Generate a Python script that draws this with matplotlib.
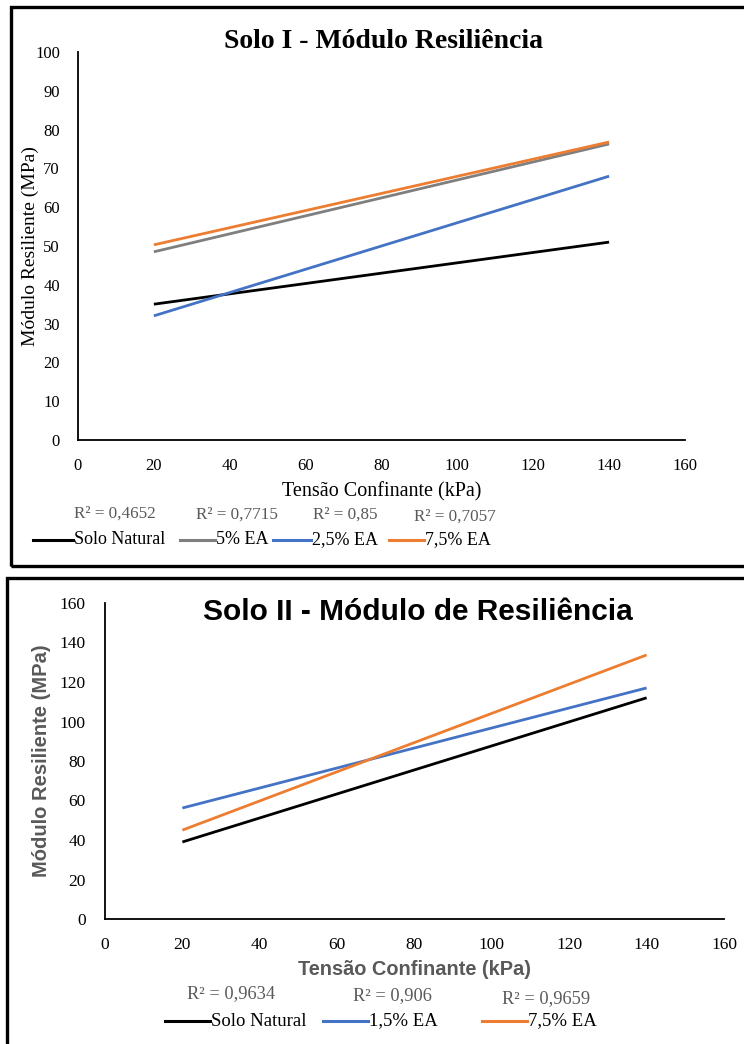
import matplotlib
matplotlib.use("Agg")
import matplotlib.pyplot as plt
from matplotlib.patches import Rectangle
from matplotlib.lines import Line2D

# Solo I: linear trend lines between confining stress 20 and 140 kPa
x_ends = [20, 140]
solo1_labels = ["Solo Natural", "5% EA", "2,5% EA", "7,5% EA"]
solo1_natural = [35.0, 51.0]
solo1_5ea = [48.5, 76.3]
solo1_25ea = [32.0, 68.0]
solo1_75ea = [50.3, 76.8]
solo1_r2 = ["R² = 0,4652", "R² = 0,7715", "R² = 0,85", "R² = 0,7057"]

# Solo II
solo2_labels = ["Solo Natural", "1,5% EA", "7,5% EA"]
solo2_natural = [39.0, 112.0]
solo2_15ea = [56.2, 117.0]
solo2_75ea = [45.0, 133.7]
solo2_r2 = ["R² = 0,9634", "R² = 0,906", "R² = 0,9659"]

x_ticks = list(range(0, 161, 20))
y1_ticks = list(range(0, 101, 10))
y2_ticks = list(range(0, 161, 20))

BLACK = "#000000"
GRAY = "#7F7F7F"
BLUE = "#4472C4"
ORANGE = "#ED7D31"
TEXT_GRAY = "#595959"

SERIF = "Liberation Serif"
SANS = "Liberation Sans"

W, H = 744, 1044
fig = plt.figure(figsize=(W / 100, H / 100), dpi=100)


def fx(px):
    return px / W


def fy(py):
    return 1 - py / H


# panel frames
fig.add_artist(Rectangle((fx(11), fy(566)), fx(800 - 11), (566 - 7) / H,
                         transform=fig.transFigure, fill=False,
                         edgecolor="black", linewidth=2.4, clip_on=False))
fig.add_artist(Rectangle((fx(7), fy(1100)), fx(800 - 7), (1100 - 578) / H,
                         transform=fig.transFigure, fill=False,
                         edgecolor="black", linewidth=2.4, clip_on=False))


def style_axes(ax, yticks, ymax, size, ypad):
    ax.set_xlim(0, 160)
    ax.set_ylim(0, ymax)
    ax.set_xticks(x_ticks)
    ax.set_yticks(yticks)
    for s in ("top", "right"):
        ax.spines[s].set_visible(False)
    for s in ("left", "bottom"):
        ax.spines[s].set_linewidth(1.3)
        ax.spines[s].set_color("black")
    ax.tick_params(length=0, labelsize=size)
    ax.tick_params(axis="y", pad=ypad)
    ax.tick_params(axis="x", pad=13)
    for lab in ax.get_xticklabels() + ax.get_yticklabels():
        lab.set_fontfamily(SERIF)


def legend_row(entries, y, size):
    # entries: (label, colour, line start px, line end px)
    for label, colour, x0, x1 in entries:
        fig.add_artist(Line2D([fx(x0), fx(x1)], [fy(y), fy(y)],
                              transform=fig.transFigure, color=colour, lw=2.2))
        fig.text(fx(x1 + 1), fy(y), label, family=SERIF, fontsize=size,
                 ha="left", va="center")


# ---------------- Solo I ----------------
ax1 = fig.add_axes([fx(78), fy(440), fx(685 - 78), (440 - 52) / H])
lw = 2.0
ax1.plot(x_ends, solo1_natural, color=BLACK, lw=lw, solid_capstyle="butt")
ax1.plot(x_ends, solo1_5ea, color=GRAY, lw=lw, solid_capstyle="butt")
ax1.plot(x_ends, solo1_25ea, color=BLUE, lw=lw, solid_capstyle="butt")
ax1.plot(x_ends, solo1_75ea, color=ORANGE, lw=lw, solid_capstyle="butt")
style_axes(ax1, y1_ticks, 100, 12, 13)
ax1.set_ylabel("Módulo Resiliente (MPa)", family=SERIF, fontsize=14)
ax1.yaxis.set_label_coords(-(78 - 39) / (685 - 78), 0.5)
ax1.set_xlabel("Tensão Confinante (kPa)", family=SERIF, fontsize=14.5, labelpad=6)

fig.text(fx(383), fy(42), "Solo I - Módulo Resiliência", family=SERIF,
         weight="bold", fontsize=20, ha="center", va="center")

r2_pos1 = [(115, 514), (237, 515), (345, 515), (455, 517)]
for txt, (px, py) in zip(solo1_r2, r2_pos1):
    fig.text(fx(px), fy(py), txt, family=SERIF, fontsize=12.3,
             color=TEXT_GRAY, ha="center", va="center")

legend_row([(solo1_labels[0], BLACK, 33, 73),
            (solo1_labels[1], GRAY, 180, 215),
            (solo1_labels[2], BLUE, 273, 311),
            (solo1_labels[3], ORANGE, 389, 424)], 540, 13)

# ---------------- Solo II ----------------
ax2 = fig.add_axes([fx(105), fy(919), fx(724 - 105), (919 - 603) / H])
ax2.plot(x_ends, solo2_natural, color=BLACK, lw=lw, solid_capstyle="butt")
ax2.plot(x_ends, solo2_15ea, color=BLUE, lw=lw, solid_capstyle="butt")
ax2.plot(x_ends, solo2_75ea, color=ORANGE, lw=lw, solid_capstyle="butt")
style_axes(ax2, y2_ticks, 160, 12.5, 14)
ax2.set_ylabel("Módulo Resiliente (MPa)", family=SANS, weight="bold",
               fontsize=14.5, color=TEXT_GRAY)
ax2.yaxis.set_label_coords(-(105 - 51) / (724 - 105), 0.5)
ax2.set_xlabel("Tensão Confinante (kPa)", family=SANS, weight="bold",
               fontsize=14.4, color=TEXT_GRAY, labelpad=5)

fig.text(fx(418), fy(612), "Solo II - Módulo de Resiliência", family=SANS,
         weight="bold", fontsize=21.5, ha="center", va="center")

r2_pos2 = [(231, 994), (392, 996), (546, 999)]
for txt, (px, py) in zip(solo2_r2, r2_pos2):
    fig.text(fx(px), fy(py), txt, family=SERIF, fontsize=13.2,
             color=TEXT_GRAY, ha="center", va="center")

legend_row([(solo2_labels[0], BLACK, 165, 210),
            (solo2_labels[1], BLUE, 323, 368),
            (solo2_labels[2], ORANGE, 482, 527)], 1021, 13.5)

fig.savefig("out.png", dpi=100)
